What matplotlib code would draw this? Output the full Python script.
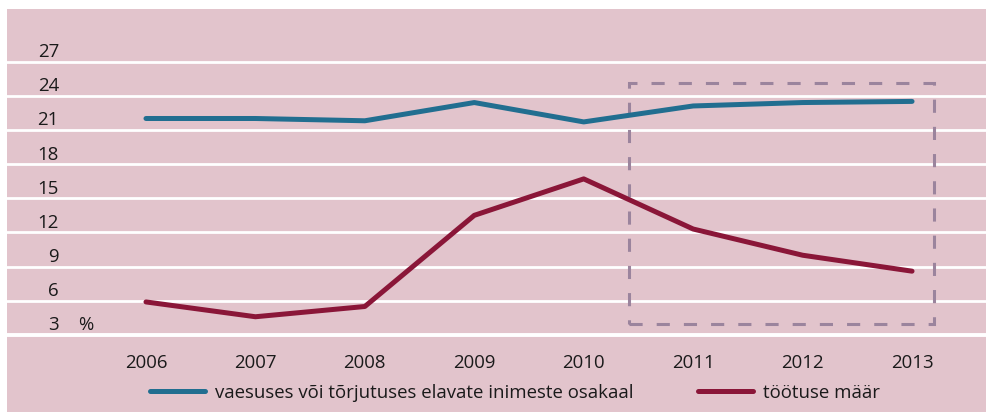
import matplotlib
matplotlib.use("Agg")
import matplotlib.pyplot as plt
from matplotlib.patches import Rectangle
from matplotlib.transforms import ScaledTranslation, blended_transform_factory

plt.rcParams["font.family"] = ["Open Sans", "DejaVu Sans"]

# Eesti: vaesus/tõrjutus ja töötus, %
years = [2006, 2007, 2008, 2009, 2010, 2011, 2012, 2013]
poverty_share = [22.0, 22.0, 21.8, 23.4, 21.7, 23.1, 23.4, 23.5]
unemployment = [5.9, 4.6, 5.5, 13.5, 16.7, 12.3, 10.0, 8.6]
y_ticks = [3, 6, 9, 12, 15, 18, 21, 24, 27]
series_labels = ["vaesuses või tõrjutuses elavate inimeste osakaal", "töötuse määr"]
unit_label = "%"
# esiletõstetud periood (2011–2013)
box_x = (2010.41, 2013.2)
box_y = (3.98, 25.1)

BG = "#e2c4cc"
BLUE = "#216e90"
RED = "#8a1638"
DASH = "#9b849d"
TEXT = "#1a1a1a"
FS = 13.4

W, H = 987, 412
fig = plt.figure(figsize=(W / 100, H / 100), dpi=100)
fig.patch.set_facecolor("white")

# plotting panel occupies the pink area
left_px, top_px = 7, 9
ax = fig.add_axes([left_px / W, 0, 1 - left_px / W, 1 - top_px / H])
ax.set_facecolor(BG)
for s in ax.spines.values():
    s.set_visible(False)
ax.set_xticks([])
ax.set_yticks([])

ax.set_xlim(2004.73, 2013.685)
ax.set_ylim(-3.76, 31.61)

# horizontal grid
for v in y_ticks:
    ax.axhline(v, color="white", lw=2.0 if v != y_ticks[0] else 2.8, zorder=1)

# y labels, sitting just above their gridline
ylab_tr = blended_transform_factory(fig.transFigure, ax.transData) + \
    ScaledTranslation(0, 4.5 / 100, fig.dpi_scale_trans)
for v in y_ticks:
    ax.text(59 / W, v, str(v), transform=ylab_tr,
            ha="right", va="baseline", fontsize=FS, color=TEXT)
ax.text(78 / W, y_ticks[0], unit_label, transform=ylab_tr,
        ha="left", va="baseline", fontsize=FS, color=TEXT)

# x labels
xlab_tr = blended_transform_factory(ax.transData, fig.transFigure)
for yr in years:
    ax.text(yr, 1 - 367.5 / H, str(yr), transform=xlab_tr, ha="center", va="baseline",
            fontsize=FS, color=TEXT)

# series
ax.plot(years, poverty_share, color=BLUE, lw=3.6, solid_capstyle="round",
        solid_joinstyle="round", zorder=3, label=series_labels[0])
ax.plot(years, unemployment, color=RED, lw=3.6, solid_capstyle="round",
        solid_joinstyle="round", zorder=3, label=series_labels[1])

# dashed highlight box
ax.add_patch(Rectangle((box_x[0], box_y[0]), box_x[1] - box_x[0], box_y[1] - box_y[0],
                       fill=False, edgecolor=DASH, lw=2.2, linestyle=(0, (4.3, 4.6)), zorder=2))

leg = ax.legend(loc="center left", bbox_to_anchor=(150 / W, 1 - 393 / H),
                bbox_transform=fig.transFigure, ncol=2, frameon=False,
                fontsize=FS, handlelength=2.95, handletextpad=0.55,
                columnspacing=3.45, borderpad=0, borderaxespad=0)
for t in leg.get_texts():
    t.set_color(TEXT)
for h in leg.legend_handles:
    h.set_solid_capstyle("round")

fig.savefig("out.png", dpi=100, facecolor=fig.get_facecolor())
